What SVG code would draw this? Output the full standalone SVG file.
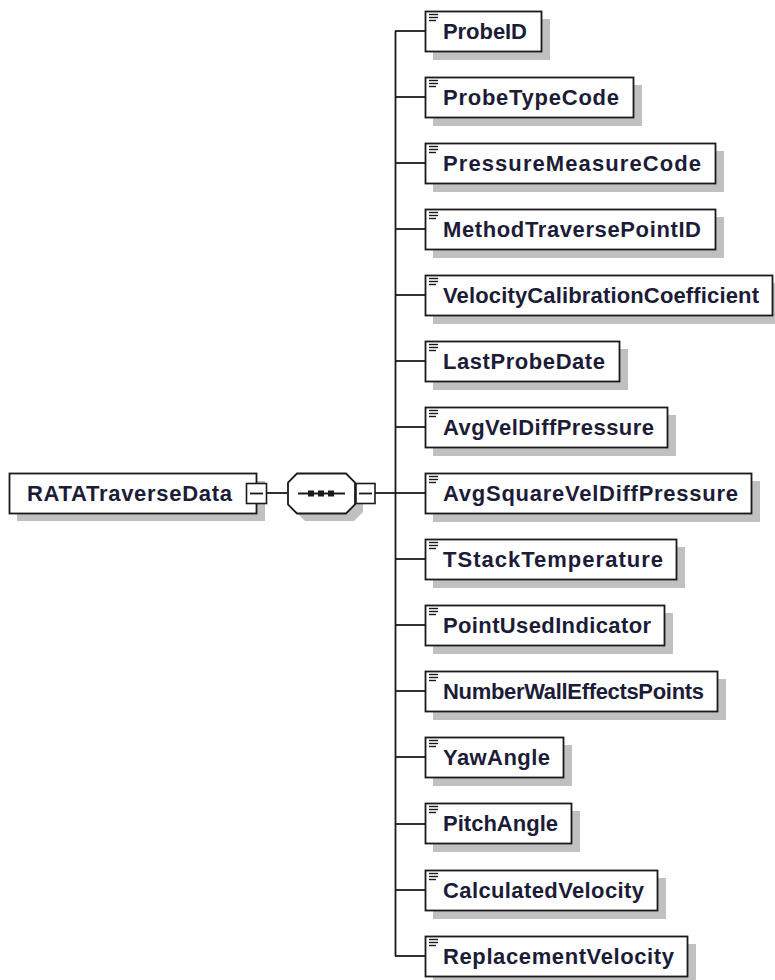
<svg xmlns="http://www.w3.org/2000/svg" width="775" height="980" viewBox="0 0 775 980">
<style>
.shadow{fill:#c0c0c0;stroke:none}
.box{fill:#fff;stroke:#1a1a1a;stroke-width:1.8}
.line{stroke:#1a1a1a;stroke-width:1.8;fill:none}
.icon{stroke:#1a1a1a;stroke-width:1.4}
.lbl{font-family:"Liberation Sans",Arial,sans-serif;font-weight:bold;font-size:22px;fill:#1c1c38}
.mbox{fill:#fff;stroke:#1a1a1a;stroke-width:1.6}
</style>
<defs>
<g id="ico"><line class="icon" x1="4" y1="3.5" x2="13" y2="3.5"/><line class="icon" x1="4" y1="6.5" x2="13" y2="6.5"/><line class="icon" x1="4" y1="9.5" x2="11" y2="9.5"/></g>
</defs>
<g id="connectors">
<line class="line" x1="267" y1="493" x2="287" y2="493"/>
<line class="line" x1="375" y1="493" x2="396" y2="493"/>
<line class="line" x1="395.5" y1="31" x2="395.5" y2="956"/>
<line class="line" x1="395" y1="31" x2="425" y2="31"/>
<line class="line" x1="395" y1="97" x2="425" y2="97"/>
<line class="line" x1="395" y1="163" x2="425" y2="163"/>
<line class="line" x1="395" y1="229" x2="425" y2="229"/>
<line class="line" x1="395" y1="295" x2="425" y2="295"/>
<line class="line" x1="395" y1="361" x2="425" y2="361"/>
<line class="line" x1="395" y1="427" x2="425" y2="427"/>
<line class="line" x1="395" y1="493" x2="425" y2="493"/>
<line class="line" x1="395" y1="559" x2="425" y2="559"/>
<line class="line" x1="395" y1="625" x2="425" y2="625"/>
<line class="line" x1="395" y1="691" x2="425" y2="691"/>
<line class="line" x1="395" y1="757" x2="425" y2="757"/>
<line class="line" x1="395" y1="824" x2="425" y2="824"/>
<line class="line" x1="395" y1="890" x2="425" y2="890"/>
<line class="line" x1="395" y1="956" x2="425" y2="956"/>
</g>
<g id="root">
<rect class="shadow" x="17" y="481" width="248" height="40"/>
<rect class="box" x="9.5" y="473.5" width="247" height="40"/>
<text class="lbl" x="27" y="501" textLength="205" lengthAdjust="spacing">RATATraverseData</text>
<rect class="mbox" x="246.5" y="483.5" width="20" height="20"/>
<line class="line" x1="250" y1="493.5" x2="263" y2="493.5"/>
</g>
<g id="sequence">
<polygon class="shadow" points="305,481 354,481 363,490 363,512 354,521 305,521 296,512 296,490"/>
<polygon class="box" points="297,473.5 346,473.5 355,482.5 355,504.5 346,513.5 297,513.5 288,504.5 288,482.5"/>
<line class="line" x1="298" y1="493.5" x2="345" y2="493.5"/>
<rect x="308" y="490.5" width="6" height="6" fill="#1a1a1a"/>
<rect x="318" y="490.5" width="6" height="6" fill="#1a1a1a"/>
<rect x="328" y="490.5" width="6" height="6" fill="#1a1a1a"/>
<rect class="mbox" x="356" y="483.5" width="19" height="20"/>
<line class="line" x1="359" y1="493.5" x2="372" y2="493.5"/>
</g>
<g id="n-ProbeID" transform="translate(425,11)">
<rect class="shadow" x="8" y="8" width="117" height="41"/><rect class="box" x="0.5" y="0.5" width="116" height="40"/><use href="#ico"/>
<text class="lbl" x="18" y="28" textLength="84" lengthAdjust="spacing">ProbeID</text></g>
<g id="n-ProbeTypeCode" transform="translate(425,77)">
<rect class="shadow" x="8" y="8" width="209" height="41"/><rect class="box" x="0.5" y="0.5" width="208" height="40"/><use href="#ico"/>
<text class="lbl" x="18" y="28" textLength="176" lengthAdjust="spacing">ProbeTypeCode</text></g>
<g id="n-PressureMeasureCode" transform="translate(425,143)">
<rect class="shadow" x="8" y="8" width="291" height="41"/><rect class="box" x="0.5" y="0.5" width="290" height="40"/><use href="#ico"/>
<text class="lbl" x="18" y="28" textLength="258" lengthAdjust="spacing">PressureMeasureCode</text></g>
<g id="n-MethodTraversePointID" transform="translate(425,209)">
<rect class="shadow" x="8" y="8" width="291" height="41"/><rect class="box" x="0.5" y="0.5" width="290" height="40"/><use href="#ico"/>
<text class="lbl" x="18" y="28" textLength="258" lengthAdjust="spacing">MethodTraversePointID</text></g>
<g id="n-VelocityCalibrationCoefficient" transform="translate(425,275)">
<rect class="shadow" x="8" y="8" width="348" height="41"/><rect class="box" x="0.5" y="0.5" width="347" height="40"/><use href="#ico"/>
<text class="lbl" x="18" y="28" textLength="316" lengthAdjust="spacing">VelocityCalibrationCoefficient</text></g>
<g id="n-LastProbeDate" transform="translate(425,341)">
<rect class="shadow" x="8" y="8" width="195" height="41"/><rect class="box" x="0.5" y="0.5" width="194" height="40"/><use href="#ico"/>
<text class="lbl" x="18" y="28" textLength="162" lengthAdjust="spacing">LastProbeDate</text></g>
<g id="n-AvgVelDiffPressure" transform="translate(425,407)">
<rect class="shadow" x="8" y="8" width="243" height="41"/><rect class="box" x="0.5" y="0.5" width="242" height="40"/><use href="#ico"/>
<text class="lbl" x="18" y="28" textLength="211" lengthAdjust="spacing">AvgVelDiffPressure</text></g>
<g id="n-AvgSquareVelDiffPressure" transform="translate(425,473)">
<rect class="shadow" x="8" y="8" width="327" height="41"/><rect class="box" x="0.5" y="0.5" width="326" height="40"/><use href="#ico"/>
<text class="lbl" x="18" y="28" textLength="295" lengthAdjust="spacing">AvgSquareVelDiffPressure</text></g>
<g id="n-TStackTemperature" transform="translate(425,539)">
<rect class="shadow" x="8" y="8" width="252" height="41"/><rect class="box" x="0.5" y="0.5" width="251" height="40"/><use href="#ico"/>
<text class="lbl" x="18" y="28" textLength="220" lengthAdjust="spacing">TStackTemperature</text></g>
<g id="n-PointUsedIndicator" transform="translate(425,605)">
<rect class="shadow" x="8" y="8" width="240" height="41"/><rect class="box" x="0.5" y="0.5" width="239" height="40"/><use href="#ico"/>
<text class="lbl" x="18" y="28" textLength="208" lengthAdjust="spacing">PointUsedIndicator</text></g>
<g id="n-NumberWallEffectsPoints" transform="translate(425,671)">
<rect class="shadow" x="8" y="8" width="293" height="41"/><rect class="box" x="0.5" y="0.5" width="292" height="40"/><use href="#ico"/>
<text class="lbl" x="18" y="28" textLength="261" lengthAdjust="spacing">NumberWallEffectsPoints</text></g>
<g id="n-YawAngle" transform="translate(425,737)">
<rect class="shadow" x="8" y="8" width="139" height="41"/><rect class="box" x="0.5" y="0.5" width="138" height="40"/><use href="#ico"/>
<text class="lbl" x="18" y="28" textLength="107" lengthAdjust="spacing">YawAngle</text></g>
<g id="n-PitchAngle" transform="translate(425,803)">
<rect class="shadow" x="8" y="8" width="147" height="41"/><rect class="box" x="0.5" y="0.5" width="146" height="40"/><use href="#ico"/>
<text class="lbl" x="18" y="28" textLength="115" lengthAdjust="spacing">PitchAngle</text></g>
<g id="n-CalculatedVelocity" transform="translate(425,870)">
<rect class="shadow" x="8" y="8" width="233" height="41"/><rect class="box" x="0.5" y="0.5" width="232" height="40"/><use href="#ico"/>
<text class="lbl" x="18" y="28" textLength="201" lengthAdjust="spacing">CalculatedVelocity</text></g>
<g id="n-ReplacementVelocity" transform="translate(425,936)">
<rect class="shadow" x="8" y="8" width="263" height="41"/><rect class="box" x="0.5" y="0.5" width="262" height="40"/><use href="#ico"/>
<text class="lbl" x="18" y="28" textLength="231" lengthAdjust="spacing">ReplacementVelocity</text></g>
</svg>
